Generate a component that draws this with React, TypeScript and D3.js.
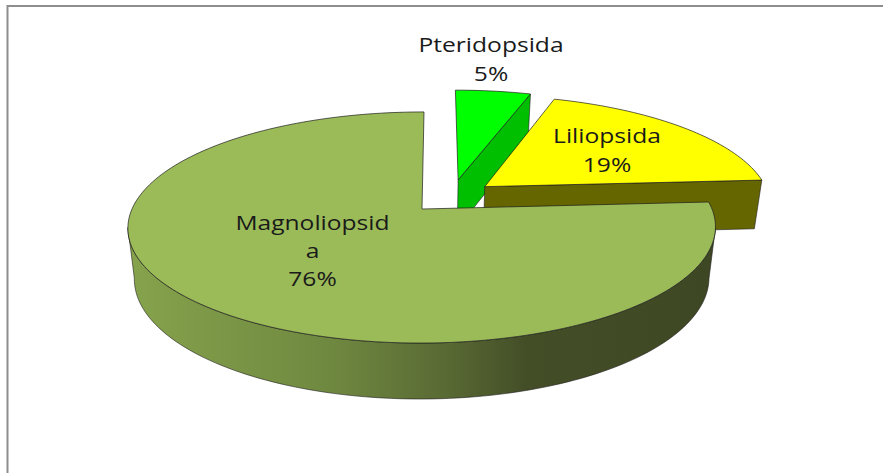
import React from "react";
import * as d3 from "d3";

const categories = ["Pteridopsida", "Liliopsida", "Magnoliopsida"];
const values = [5, 19, 76];
const labelLines = [["Pteridopsida", "5%"], ["Liliopsida", "19%"], ["Magnoliopsid", "a", "76%"]];
const topColors = ["#00ff00", "#ffff00", "#9bbb59"];
const wallColors = ["#00bf00", "#666600", "url(#wall)"];
const explode = [[0.128, -0.27], [0.222, -0.205], [0, 0]];
const labelPos = [[491, 52], [607, 143], [312.5, 230]];
const lineStep = [29, 29, 28];
const wallStops = [[0, "#86a34c"], [0.35, "#6f8840"], [0.55, "#586833"], [0.68, "#434e27"], [1, "#3e4723"]];

const CX = 422, Y0 = 209, A = 290, B = 112.6, K = 0.16, SHEAR = -2, TEXT_STRETCH = 1.2;

function project(u: number, v: number, h: number): [number, number] {
  const t = 1 - K * v;
  const q = v / t;
  return [CX + A * (u / t) * (1 - 0.022 * h) + SHEAR * v, Y0 + B * q + h * (50 + 5 * q)];
}

const pieGen = d3.pie<number>().sort(null).value((d) => d);
const arcs = pieGen(values);
const line = d3.line();

function rim(a0: number, a1: number, dx: number, dy: number, h: number) {
  const n = Math.max(2, Math.ceil((a1 - a0) * 40));
  return d3.range(n + 1).map((i) => {
    const a = a0 + ((a1 - a0) * i) / n;
    return project(Math.sin(a) + dx, -Math.cos(a) + dy, h);
  });
}

export default function App() {
  const strokeC = "#1c1c1c";
  return (
    <svg width={883} height={473} style={{ position: "fixed", left: 0, top: 0, background: "#fff" }}>
      <defs>
        <linearGradient id="wall" gradientUnits="userSpaceOnUse" x1={127} x2={715} y1={0} y2={0}>
          {wallStops.map(([o, c]) => <stop key={o as number} offset={o as number} stopColor={c as string} />)}
        </linearGradient>
      </defs>
      <path d="M7.5,473V6H883" fill="none" stroke="#8e8e8e" strokeWidth={2} />
      {arcs.map((arc, i) => {
        const [dx, dy] = explode[i];
        const vTop = project(dx, dy, 0), vBot = project(dx, dy, 1);
        const isMain = i === 2;
        let wall;
        if (isMain) {
          // Rim wall between the two silhouette tangents of the perspective circle.
          const a0 = Math.acos(-K), a1 = 2 * Math.PI - a0;
          wall = [...rim(a0, a1, dx, dy, 0), ...rim(a0, a1, dx, dy, 1).reverse()];
        } else {
          const oT = project(Math.sin(arc.endAngle) + dx, -Math.cos(arc.endAngle) + dy, 0);
          const oB = project(Math.sin(arc.endAngle) + dx, -Math.cos(arc.endAngle) + dy, 1);
          wall = [vTop, oT, oB, vBot];
        }
        const top = [vTop, ...rim(arc.startAngle, arc.endAngle, dx, dy, 0)];
        return (
          <g key={categories[i]}>
            <path d={line(wall) + "Z"} fill={wallColors[i]} stroke={strokeC} strokeWidth={0.6} strokeLinejoin="round" />
            <path d={line(top) + "Z"} fill={topColors[i]} stroke={strokeC} strokeWidth={0.7} strokeLinejoin="round" />
          </g>
        );
      })}
      {labelLines.map((lines, i) => (
        <g key={i} transform={`translate(${labelPos[i][0]},${labelPos[i][1]}) scale(${TEXT_STRETCH},1)`}>
          <text fontFamily="'Open Sans', sans-serif" fontSize={20.5} fill="#1a1a1a" textAnchor="middle">
            {lines.map((l, j) => (
              <tspan key={j} x={0} y={j * lineStep[i]}>{l}</tspan>
            ))}
          </text>
        </g>
      ))}
    </svg>
  );
}
